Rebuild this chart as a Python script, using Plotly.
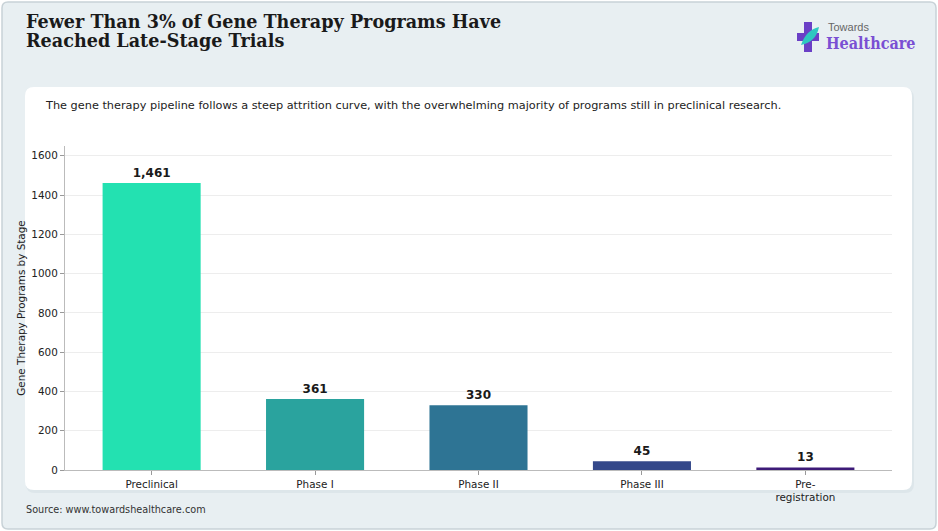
import plotly.graph_objects as go

# Data
stages = ["Preclinical", "Phase I", "Phase II", "Phase III", "Pre-<br>registration"]
programs = [1461, 361, 330, 45, 13]
bar_colors = ["#23e1b1", "#2aa39e", "#2e7494", "#34488a", "#3d1a78"]

title_line1 = "Fewer Than 3% of Gene Therapy Programs Have"
title_line2 = "Reached Late-Stage Trials"
subtitle = ("The gene therapy pipeline follows a steep attrition curve, with the "
            "overwhelming majority of programs still in preclinical research.")
source = "Source: www.towardshealthcare.com"

# Figure geometry (pixels)
W, H = 938, 531
L, R, T, B = 65, 46, 146, 61
PW, PH = W - L - R, H - T - B


def px(x):
    return (x - L) / PW


def py(y):
    return (H - B - y) / PH


def rounded_rect(x0, y0, x1, y1, r):
    # path in paper coordinates, built from pixel corners
    rx, ry = r / PW, r / PH
    a0, a1 = px(x0), px(x1)
    b0, b1 = py(y1), py(y0)  # bottom, top
    return (f"M {a0 + rx},{b0} L {a1 - rx},{b0} Q {a1},{b0} {a1},{b0 + ry} "
            f"L {a1},{b1 - ry} Q {a1},{b1} {a1 - rx},{b1} "
            f"L {a0 + rx},{b1} Q {a0},{b1} {a0},{b1 - ry} "
            f"L {a0},{b0 + ry} Q {a0},{b0} {a0 + rx},{b0} Z")


fig = go.Figure()
fig.add_trace(go.Bar(
    x=stages,
    y=programs,
    marker=dict(color=bar_colors, line=dict(width=0)),
    width=0.6,
    text=programs,
    texttemplate="%{y:,}",
    textposition="outside",
    textfont=dict(family="DejaVu Sans", size=12, color="#1a1a1a", weight="bold"),
    cliponaxis=False,
    hoverinfo="skip",
))

shapes = [
    # outer frame
    dict(type="path", xref="paper", yref="paper", layer="below",
         path=rounded_rect(2, 2, 936, 529, 6),
         fillcolor="#e8eff2", line=dict(color="#c8d2d7", width=1.5)),
    # card shadow
    dict(type="path", xref="paper", yref="paper", layer="below",
         path=rounded_rect(26, 89, 914, 493, 9),
         fillcolor="#dde6ea", line=dict(width=0)),
    # white card
    dict(type="path", xref="paper", yref="paper", layer="below",
         path=rounded_rect(25, 87, 912, 490, 9),
         fillcolor="white", line=dict(width=0)),
    # logo cross
    dict(type="rect", xref="paper", yref="paper",
         x0=px(804), x1=px(812), y0=py(52), y1=py(22),
         fillcolor="#6a3fc6", line=dict(width=0)),
    dict(type="rect", xref="paper", yref="paper",
         x0=px(797), x1=px(819), y0=py(41), y1=py(33),
         fillcolor="#6a3fc6", line=dict(width=0)),
    dict(type="path", xref="paper", yref="paper",
         path=(f"M {px(801)},{py(45)} Q {px(806)},{py(30)} {px(819)},{py(27)} "
               f"Q {px(816)},{py(42)} {px(801)},{py(45)} Z"),
         fillcolor="#2fc7c0", line=dict(width=0)),
]

annotations = [
    dict(text=f"<b>{title_line1}</b>", x=px(24), y=py(21.5), xanchor="left", yanchor="middle",
         font=dict(family="DejaVu Serif", size=17.6, color="#1a1a1a")),
    dict(text=f"<b>{title_line2}</b>", x=px(24), y=py(41), xanchor="left", yanchor="middle",
         font=dict(family="DejaVu Serif", size=17.6, color="#1a1a1a")),
    dict(text=subtitle, x=px(43), y=py(105), xanchor="left", yanchor="middle",
         font=dict(family="DejaVu Sans", size=11.3, color="#222222")),
    dict(text=source, x=px(24), y=py(509), xanchor="left", yanchor="middle",
         font=dict(family="DejaVu Sans", size=9.7, color="#333333")),
    dict(text="Towards", x=px(826), y=py(27), xanchor="left", yanchor="middle",
         font=dict(family="Liberation Sans Narrow, Liberation Sans", size=11, color="#666666")),
    dict(text="<b>Healthcare</b>", x=px(824), y=py(44), xanchor="left", yanchor="middle",
         font=dict(family="DejaVu Serif Condensed, DejaVu Serif", size=16, color="#7a4fd3")),
]
for a in annotations:
    a.update(xref="paper", yref="paper", showarrow=False)

fig.update_layout(
    width=W, height=H,
    margin=dict(l=L, r=R, t=T, b=B, pad=0),
    paper_bgcolor="rgba(0,0,0,0)",
    plot_bgcolor="rgba(0,0,0,0)",
    shapes=shapes,
    annotations=annotations,
    showlegend=False,
    bargap=0.4,
    font=dict(family="DejaVu Sans", size=10.4, color="#222222"),
)
fig.update_xaxes(
    range=[-0.53, 4.53],
    showline=True, linecolor="#bbbbbb", linewidth=1.2,
    ticks="outside", ticklen=4, tickcolor="#999999",
    showgrid=False, zeroline=False,
    tickfont=dict(size=10.4, color="#222222"),
)
fig.update_yaxes(
    range=[0, 1650],
    tickvals=[0, 200, 400, 600, 800, 1000, 1200, 1400, 1600],
    showline=True, linecolor="#bbbbbb", linewidth=1.2,
    ticks="outside", ticklen=4, tickcolor="#999999",
    showgrid=True, gridcolor="#ededed", gridwidth=1,
    zeroline=False,
    tickfont=dict(size=10.4, color="#222222"),
    title=dict(text="Gene Therapy Programs by Stage", standoff=3,
               font=dict(size=10.4, color="#222222")),
)

# drop the default page margin so the figure fills the window
fig.write_html("out.html",
               config={"displayModeBar": False},
               post_script="document.body.style.margin='0';document.body.style.overflow='hidden';")
